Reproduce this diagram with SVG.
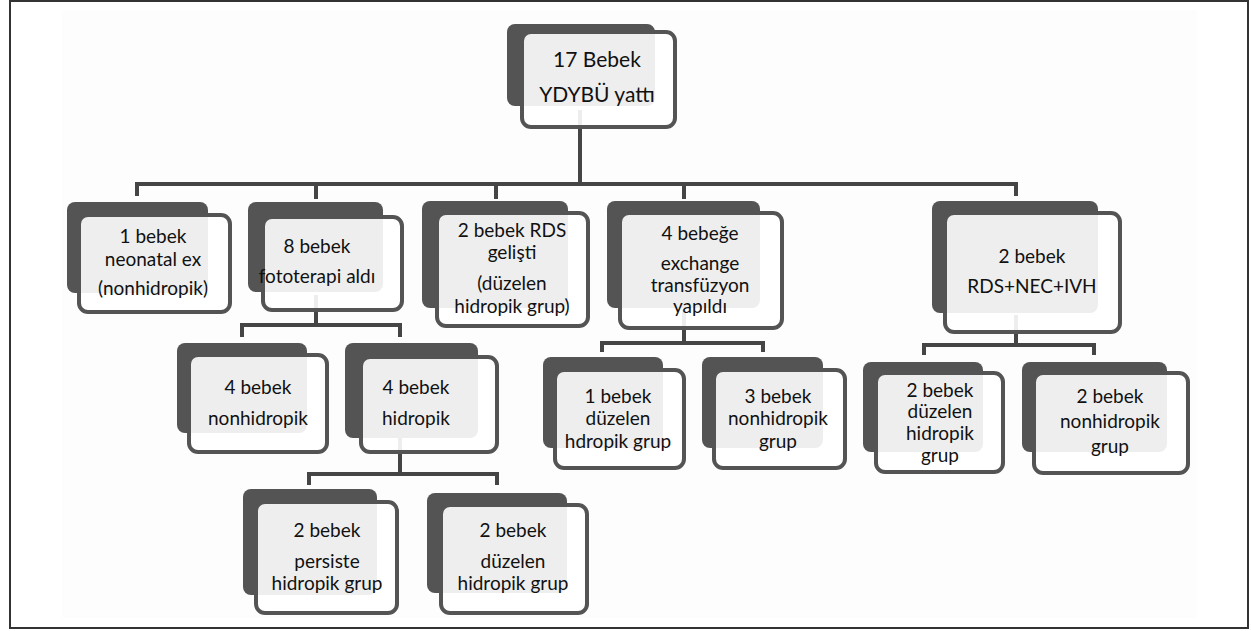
<svg xmlns="http://www.w3.org/2000/svg" width="1251" height="631" viewBox="0 0 1251 631">
<style>
.back{fill:#545454}
.front{fill:#ffffff;fill-opacity:0.9;stroke:#545454;stroke-width:4}
.conn{fill:none;stroke:#454545;stroke-width:4;stroke-linejoin:miter}
text{font-family:Lato,"Open Sans","DejaVu Sans",sans-serif;font-size:19px;fill:#111111;text-anchor:middle}
.big{font-size:21px}
</style>
<rect x="0" y="0" width="1251" height="631" fill="#ffffff"/>
<rect x="62" y="10" width="1135" height="608" fill="#fdfdfd"/>
<rect x="10" y="1" width="1238" height="627" fill="none" stroke="#333333" stroke-width="2"/>
<g id="connectors">
<path class="conn" d="M580 110 V184"/>
<path class="conn" d="M137 196 V184 H1016 V196"/>
<path class="conn" d="M316 184 V199"/>
<path class="conn" d="M496 184 V199"/>
<path class="conn" d="M684 184 V199"/>
<path class="conn" d="M316 295 V325"/>
<path class="conn" d="M242 337 V325 H400 V337"/>
<path class="conn" d="M400 435 V474"/>
<path class="conn" d="M309 485 V474 H497 V485"/>
<path class="conn" d="M684 310 V343"/>
<path class="conn" d="M602 352 V343 H763 V352"/>
<path class="conn" d="M1016 315 V345"/>
<path class="conn" d="M924 355 V345 H1094 V355"/>
</g>
<g id="n-root">
<rect class="back" x="507" y="24" width="148" height="82" rx="8"/>
<rect class="front" x="522" y="32" width="153" height="95" rx="9"/>
<text class="big" x="597" y="67">17 Bebek</text>
<text class="big" x="597" y="102">YDYBÜ yattı</text>
</g>
<g id="n1">
<rect class="back" x="67" y="202" width="141" height="91" rx="8"/>
<rect class="front" x="79" y="215" width="151" height="97" rx="9"/>
<text x="153" y="243">1 bebek</text>
<text x="153" y="266">neonatal ex</text>
<text x="153" y="295">(nonhidropik)</text>
</g>
<g id="n2">
<rect class="back" x="248" y="202" width="135" height="90" rx="8"/>
<rect class="front" x="263" y="217" width="139" height="93" rx="9"/>
<text x="317" y="253">8 bebek</text>
<text x="317" y="283">fototerapi aldı</text>
</g>
<g id="n3">
<rect class="back" x="422" y="201" width="146" height="107" rx="8"/>
<rect class="front" x="437" y="213" width="151" height="113" rx="9"/>
<text x="512" y="237">2 bebek RDS</text>
<text x="512" y="259">gelişti</text>
<text x="512" y="290">(düzelen</text>
<text x="512" y="313">hidropik grup)</text>
</g>
<g id="n4">
<rect class="back" x="607" y="201" width="153" height="107" rx="8"/>
<rect class="front" x="620" y="213" width="162" height="115" rx="9"/>
<text x="700" y="240">4 bebeğe</text>
<text x="700" y="270">exchange</text>
<text x="700" y="292">transfüzyon</text>
<text x="700" y="313">yapıldı</text>
</g>
<g id="n5">
<rect class="back" x="932" y="201" width="166" height="112" rx="8"/>
<rect class="front" x="945" y="213" width="175" height="119" rx="9"/>
<text x="1032" y="263">2 bebek</text>
<text x="1032" y="293">RDS+NEC+IVH</text>
</g>
<g id="n2a">
<rect class="back" x="177" y="343" width="130" height="90" rx="8"/>
<rect class="front" x="189" y="355" width="138" height="97" rx="9"/>
<text x="258" y="394">4 bebek</text>
<text x="258" y="425">nonhidropik</text>
</g>
<g id="n2b">
<rect class="back" x="345" y="343" width="133" height="95" rx="8"/>
<rect class="front" x="361" y="357" width="136" height="95" rx="9"/>
<text x="416" y="394">4 bebek</text>
<text x="416" y="425">hidropik</text>
</g>
<g id="n2b1">
<rect class="back" x="243" y="489" width="134" height="106" rx="8"/>
<rect class="front" x="256" y="502" width="141" height="111" rx="9"/>
<text x="327" y="537">2 bebek</text>
<text x="327" y="568">persiste</text>
<text x="327" y="590">hidropik grup</text>
</g>
<g id="n2b2">
<rect class="back" x="427" y="493" width="140" height="100" rx="8"/>
<rect class="front" x="441" y="505" width="146" height="108" rx="9"/>
<text x="513" y="537">2 bebek</text>
<text x="513" y="568">düzelen</text>
<text x="513" y="590">hidropik grup</text>
</g>
<g id="n4a">
<rect class="back" x="543" y="357" width="120" height="91" rx="8"/>
<rect class="front" x="555" y="370" width="129" height="98" rx="9"/>
<text x="618" y="403">1 bebek</text>
<text x="618" y="425">düzelen</text>
<text x="618" y="448">hdropik grup</text>
</g>
<g id="n4b">
<rect class="back" x="702" y="357" width="121" height="91" rx="8"/>
<rect class="front" x="714" y="370" width="131" height="98" rx="9"/>
<text x="778" y="403">3 bebek</text>
<text x="778" y="425">nonhidropik</text>
<text x="778" y="448">grup</text>
</g>
<g id="n5a">
<rect class="back" x="863" y="362" width="120" height="90" rx="8"/>
<rect class="front" x="876" y="373" width="127" height="99" rx="9"/>
<text x="940" y="397">2 bebek</text>
<text x="940" y="418">düzelen</text>
<text x="940" y="440">hidropik</text>
<text x="940" y="462">grup</text>
</g>
<g id="n5b">
<rect class="back" x="1022" y="362" width="145" height="90" rx="8"/>
<rect class="front" x="1034" y="373" width="154" height="100" rx="9"/>
<text x="1110" y="403">2 bebek</text>
<text x="1110" y="428">nonhidropik</text>
<text x="1110" y="453">grup</text>
</g>
</svg>
